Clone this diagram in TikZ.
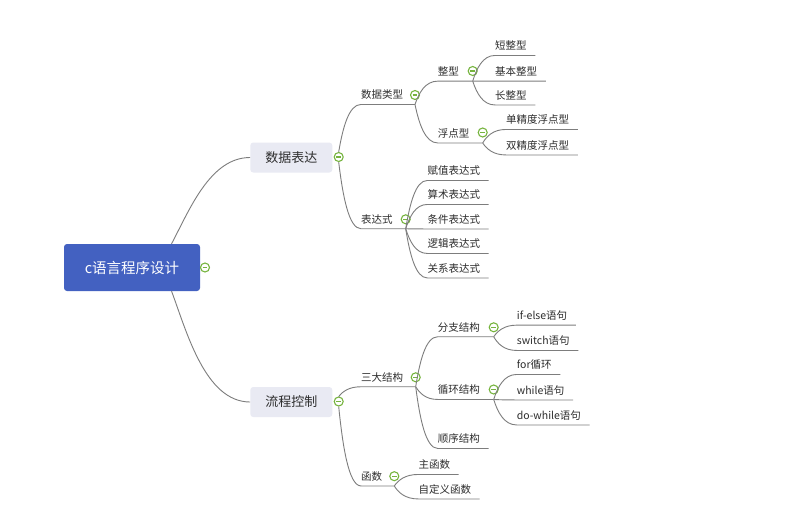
\documentclass[tikz,border=0pt]{standalone}
\usepackage{fontspec}
\newfontfamily\cjk{Noto Sans CJK SC}
\usetikzlibrary{calc}
\definecolor{rootblue}{RGB}{67,97,193}
\definecolor{topicgrey}{RGB}{233,234,243}
\definecolor{linegrey}{RGB}{125,125,125}
\definecolor{foldgreen}{RGB}{118,180,62}
\definecolor{inkgrey}{RGB}{45,45,45}

\tikzset{
  root/.style={fill=rootblue, rounded corners=3pt, minimum width=136pt,
    minimum height=47pt, text=white, font=\cjk\fontsize{14.5}{16}\selectfont},
  maintopic/.style={fill=topicgrey, rounded corners=3pt, minimum width=82pt,
    minimum height=30pt, text=inkgrey, font=\cjk\fontsize{13}{15}\selectfont},
  topic/.style={anchor=west, inner xsep=0pt, inner ysep=4pt, text height=9pt,
    text depth=1.5pt, text=inkgrey, font=\cjk\fontsize{10.5}{12}\selectfont},
  fold/.style={circle, draw=foldgreen, line width=1.1pt, fill=white,
    minimum size=9pt, inner sep=0pt,
    path picture={\draw[foldgreen, line width=1.1pt]
      ([xshift=-2.4pt]path picture bounding box.center) --
      ([xshift=2.4pt]path picture bounding box.center);}},
  wire/.style={draw=linegrey, line width=0.9pt},
  branch/.style={to path={.. controls
    ($(\tikztostart)!0.5!(\tikztostart |- \tikztotarget) + (4,0)$) and
    ($(\tikztostart |- \tikztotarget)!0.45!(\tikztotarget)$) .. (\tikztotarget)}},
}

\begin{document}
\begin{tikzpicture}[x=1pt, y=-1pt]
  \useasboundingbox[fill=white] (0,0) rectangle (807,520);

  % ── Root and main topics ─────────────────────────────
  \node[root] (root) at (132,267.5) {c语言程序设计};
  \node[fold] (f-root) at (205,267.5) {};
  \node[maintopic] (sjbd) at (291.3,157.5) {数据表达};
  \node[maintopic] (lckz) at (291.3,402) {流程控制};
  \node[fold] (f-sjbd) at (338.7,157) {};
  \node[fold] (f-lckz) at (338.7,401.5) {};
  \coordinate (root-n) at ($(root.north west)!0.79!(root.north east)$);
  \coordinate (root-s) at ($(root.south west)!0.79!(root.south east)$);
  \draw[wire] (root-n) .. controls +(18,-34) and +(-40,0) .. (sjbd.west);
  \draw[wire] (root-s) .. controls +(15,40) and +(-45,0) .. (lckz.west);

  % ── 数据表达 ─────────────────────────────────────────
  \node[topic] (sjlx) at (361,95) {数据类型};
  \node[fold] (f-sjlx) at (415,95) {};
  \coordinate (o-sjlx) at (sjlx.south -| f-sjlx);
  \draw[wire] (f-sjbd.north) to[branch] (sjlx.south west) -- (o-sjlx);

  \node[topic] (zx) at (437.7,71.7) {整型};
  \node[fold] (f-zx) at (472.7,71) {};
  \coordinate (o-zx) at (zx.south -| f-zx);
  \draw[wire] (o-sjlx) to[branch] (zx.south west) -- (o-zx);
  \foreach \nm/\yy/\txt in {dzx/46/短整型, jbzx/71.7/基本整型, czx/95.5/长整型}{
    \node[topic] (\nm) at (495,\yy) {\txt};
    \draw[wire] (o-zx) to[branch] (\nm.south west) -- (\nm.south east) -- ++(8.5,0);
  }

  \node[topic] (fdx) at (437.7,133.5) {浮点型};
  \node[fold] (f-fdx) at (482.7,132.5) {};
  \coordinate (o-fdx) at (fdx.south -| f-fdx);
  \draw[wire] (o-sjlx) to[branch] (fdx.south west) -- (o-fdx);
  \foreach \nm/\yy/\txt in {djd/120/单精度浮点型, sjd/145.5/双精度浮点型}{
    \node[topic] (\nm) at (506,\yy) {\txt};
    \draw[wire] (o-fdx) to[branch] (\nm.south west) -- (\nm.south east) -- ++(8.5,0);
  }

  \node[topic] (bds) at (361,219.3) {表达式};
  \node[fold] (f-bds) at (405.7,219.3) {};
  \coordinate (o-bds) at (bds.south -| f-bds);
  \draw[wire] (f-sjbd.south) to[branch] (bds.south west) -- (o-bds);
  \foreach \nm/\yy/\txt in {fz/171/赋值表达式, ss/195/算术表达式, tj/219.5/条件表达式,
      lj/244/逻辑表达式, gx/268.5/关系表达式}{
    \node[topic] (\nm) at (427.3,\yy) {\txt};
    \draw[wire] (o-bds) to[branch] (\nm.south west) -- (\nm.south east) -- ++(8.5,0);
  }

  % ── 流程控制 ─────────────────────────────────────────
  \node[topic] (sdjg) at (361,377.3) {三大结构};
  \node[fold] (f-sdjg) at (415.7,377.3) {};
  \coordinate (o-sdjg) at (sdjg.south -| f-sdjg);
  \draw[wire] (f-lckz.north) to[branch] (sdjg.south west) -- (o-sdjg);

  \node[topic] (fzjg) at (437.7,327.3) {分支结构};
  \node[fold] (f-fzjg) at (493.7,327.3) {};
  \coordinate (o-fzjg) at (fzjg.south -| f-fzjg);
  \draw[wire] (o-sdjg) to[branch] (fzjg.south west) -- (o-fzjg);
  \foreach \nm/\yy/\txt in {ifelse/315.7/if-else语句, switch/341/switch语句}{
    \node[topic] (\nm) at (516.7,\yy) {\txt};
    \draw[wire] (o-fzjg) to[branch] (\nm.south west) -- (\nm.south east) -- ++(8.5,0);
  }

  \node[topic] (xhjg) at (437.7,390) {循环结构};
  \node[fold] (f-xhjg) at (493.7,389.5) {};
  \coordinate (o-xhjg) at (xhjg.south -| f-xhjg);
  \draw[wire] (o-sdjg) to[branch] (xhjg.south west) -- (o-xhjg);
  \foreach \nm/\yy/\txt in {for/365/for循环, while/390.5/while语句, dowhile/415.5/do-while语句}{
    \node[topic] (\nm) at (516.7,\yy) {\txt};
    \draw[wire] (o-xhjg) to[branch] (\nm.south west) -- (\nm.south east) -- ++(8.5,0);
  }

  \node[topic] (sxjg) at (437.7,439) {顺序结构};
  \draw[wire] (o-sdjg) to[branch] (sxjg.south west) -- (sxjg.south east) -- ++(8.5,0);

  \node[topic] (hs) at (361,476.5) {函数};
  \node[fold] (f-hs) at (394.3,476.2) {};
  \coordinate (o-hs) at (hs.south -| f-hs);
  \draw[wire] (f-lckz.south) to[branch] (hs.south west) -- (o-hs);
  \foreach \nm/\yy/\txt in {zhs/465/主函数, zdyhs/489.5/自定义函数}{
    \node[topic] (\nm) at (418.3,\yy) {\txt};
    \draw[wire] (o-hs) to[branch] (\nm.south west) -- (\nm.south east) -- ++(8.5,0);
  }
\end{tikzpicture}
\end{document}
